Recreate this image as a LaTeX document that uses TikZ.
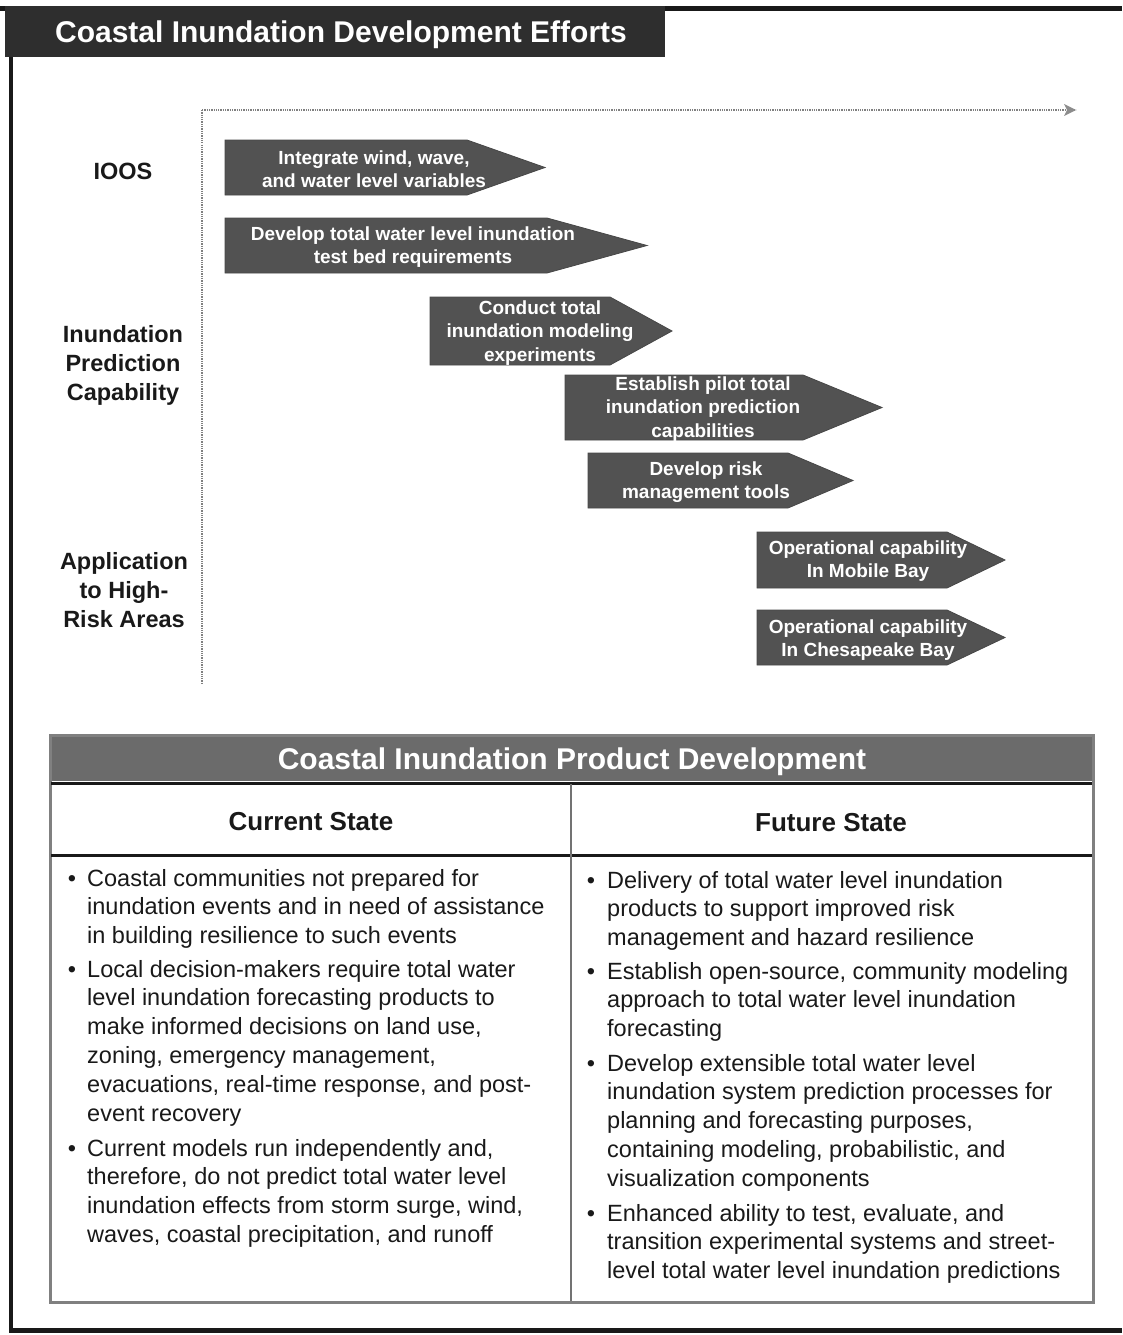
\documentclass[tikz,border=0pt]{standalone}
\usepackage{fontspec}
\setmainfont{Liberation Sans}
\usetikzlibrary{arrows.meta}
\tikzset{
 chev/.style={fill=black!68, draw=black!72, line width=0.8},
 chevtext/.style={text=white, font=\fontsize{19}{23.5}\selectfont\bfseries, align=center, inner sep=0},
 rowlab/.style={font=\fontsize{23.5}{29}\selectfont\bfseries, align=center, inner sep=0, text=black!90},
 bodytxt/.style={font=\fontsize{23.5}{28.8}\selectfont, align=left, inner sep=0, anchor=base west, text=black!90},
 bul/.style={font=\fontsize{23.5}{28.8}\selectfont, inner sep=0, anchor=base, text=black!90},
 colhead/.style={font=\fontsize{26}{30}\selectfont\bfseries, inner sep=0, text=black!90},
 bigtitle/.style={font=\fontsize{30}{34}\selectfont\bfseries, inner sep=0, text=white},
 axisline/.style={black!50, line width=1.3, densely dotted},
 frameline/.style={black!90, line width=5},
}
\newcommand\chevshape[5]{% x0, y0, xb, xt, y1
  \filldraw[chev] (#1,#2) -- (#3,#2) -- (#4,{(#2+#5)/2}) -- (#3,#5) -- (#1,#5) -- cycle;}
\begin{document}
\begin{tikzpicture}[x=1pt,y=-1pt]
\useasboundingbox (0,0) rectangle (1122,1335);
% outer frame
\coordinate (ftl) at (0,9);
\coordinate (ftr) at (1122,9);
\coordinate (flt) at (11,9);
\coordinate (flb) at (11,1332);
\coordinate (fbl) at (9,1330);
\coordinate (fbr) at (1122,1330);
\draw[frameline] (ftl) -- (ftr);
\draw[black!90, line width=4] (flt) -- (flb);
\draw[frameline] (fbl) -- (fbr);
% header
\fill[black!82] (5,6) rectangle (665,57);
\node[bigtitle] (title) at (341,35) {Coastal Inundation Development Efforts};
% axes
\coordinate (origin) at (202,110);
\coordinate (xend) at (1076,110);
\coordinate (yend) at (202,683);
\draw[axisline] (origin) -- (xend);
\fill[black!45] (xend) -- ++(-12,-6) -- ++(3,6) -- ++(-3,6) -- cycle;
\draw[axisline] (origin) -- (yend);
% row labels
\node[rowlab] (ioos) at (123,171) {IOOS};
\node[rowlab] (ipc) at (123,365) {Inundation\\Prediction\\Capability};
\node[rowlab] (ahr) at (124,590) {Application\\to High-\\Risk Areas};
% chevrons
\chevshape{225}{140}{467}{545}{195}
\node[chevtext] (a1) at (374,169) {Integrate wind, wave,\\and water level variables};
\chevshape{225}{218}{547}{647}{273}
\node[chevtext] (a2) at (413,247) {Develop total water level inundation\\test bed requirements};
\chevshape{430}{297}{610}{672}{365}
\node[chevtext] (a3) at (540,333) {Conduct total\\inundation modeling\\experiments};
\chevshape{565}{375}{803}{882}{440}
\node[chevtext] (a4) at (703,409) {Establish pilot total\\inundation prediction\\capabilities};
\chevshape{588}{453}{788}{853}{508}
\node[chevtext] (a5) at (706,482) {Develop risk\\management tools};
\chevshape{757}{532}{947}{1005}{588}
\node[chevtext] (a6) at (868,561) {Operational capability\\In Mobile Bay};
\chevshape{757}{610}{947}{1005}{665}
\node[chevtext] (a7) at (868,640) {Operational capability\\In Chesapeake Bay};
% table
\fill[black!58] (50,735) rectangle (1093,781);
\node[bigtitle] (ttitle) at (572,762) {Coastal Inundation Product Development};
\draw[black!50, line width=3] (50,735) rectangle (1093,1302);
\draw[black!90, line width=2.2] (51,783.5) -- (1092,783.5);
\draw[black!90, line width=2.2] (51,855.5) -- (1092,855.5);
\draw[black!55, line width=2.2] (571,784) -- (571,1301);
\node[colhead] (cs) at (311,822) {Current State};
\node[colhead] (fs) at (831,823) {Future State};
% left column (anchor = baseline of last line)
\node[bul] (lb1) at (72,886) {•};
\node[bodytxt] (l1) at (87,943.6) {Coastal communities not prepared for\\inundation events and in need of assistance\\in building resilience to such events};
\node[bul] (lb2) at (72,977) {•};
\node[bodytxt] (l2) at (87,1121) {Local decision-makers require total water\\level inundation forecasting products to\\make informed decisions on land use,\\zoning, emergency management,\\evacuations, real-time response, and post-\\event recovery};
\node[bul] (lb3) at (72,1156) {•};
\node[bodytxt] (l3) at (87,1242.4) {Current models run independently and,\\therefore, do not predict total water level\\inundation effects from storm surge, wind,\\waves, coastal precipitation, and runoff};
% right column
\node[bul] (rb1) at (591,888) {•};
\node[bodytxt] (r1) at (607,945.6) {Delivery of total water level inundation\\products to support improved risk\\management and hazard resilience};
\node[bul] (rb2) at (591,979) {•};
\node[bodytxt] (r2) at (607,1036.6) {Establish open-source, community modeling\\approach to total water level inundation\\forecasting};
\node[bul] (rb3) at (591,1071) {•};
\node[bodytxt] (r3) at (607,1186.2) {Develop extensible total water level\\inundation system prediction processes for\\planning and forecasting purposes,\\containing modeling, probabilistic, and\\visualization components};
\node[bul] (rb4) at (591,1221) {•};
\node[bodytxt] (r4) at (607,1278.6) {Enhanced ability to test, evaluate, and\\transition experimental systems and street-\\level total water level inundation predictions};
\end{tikzpicture}
\end{document}
